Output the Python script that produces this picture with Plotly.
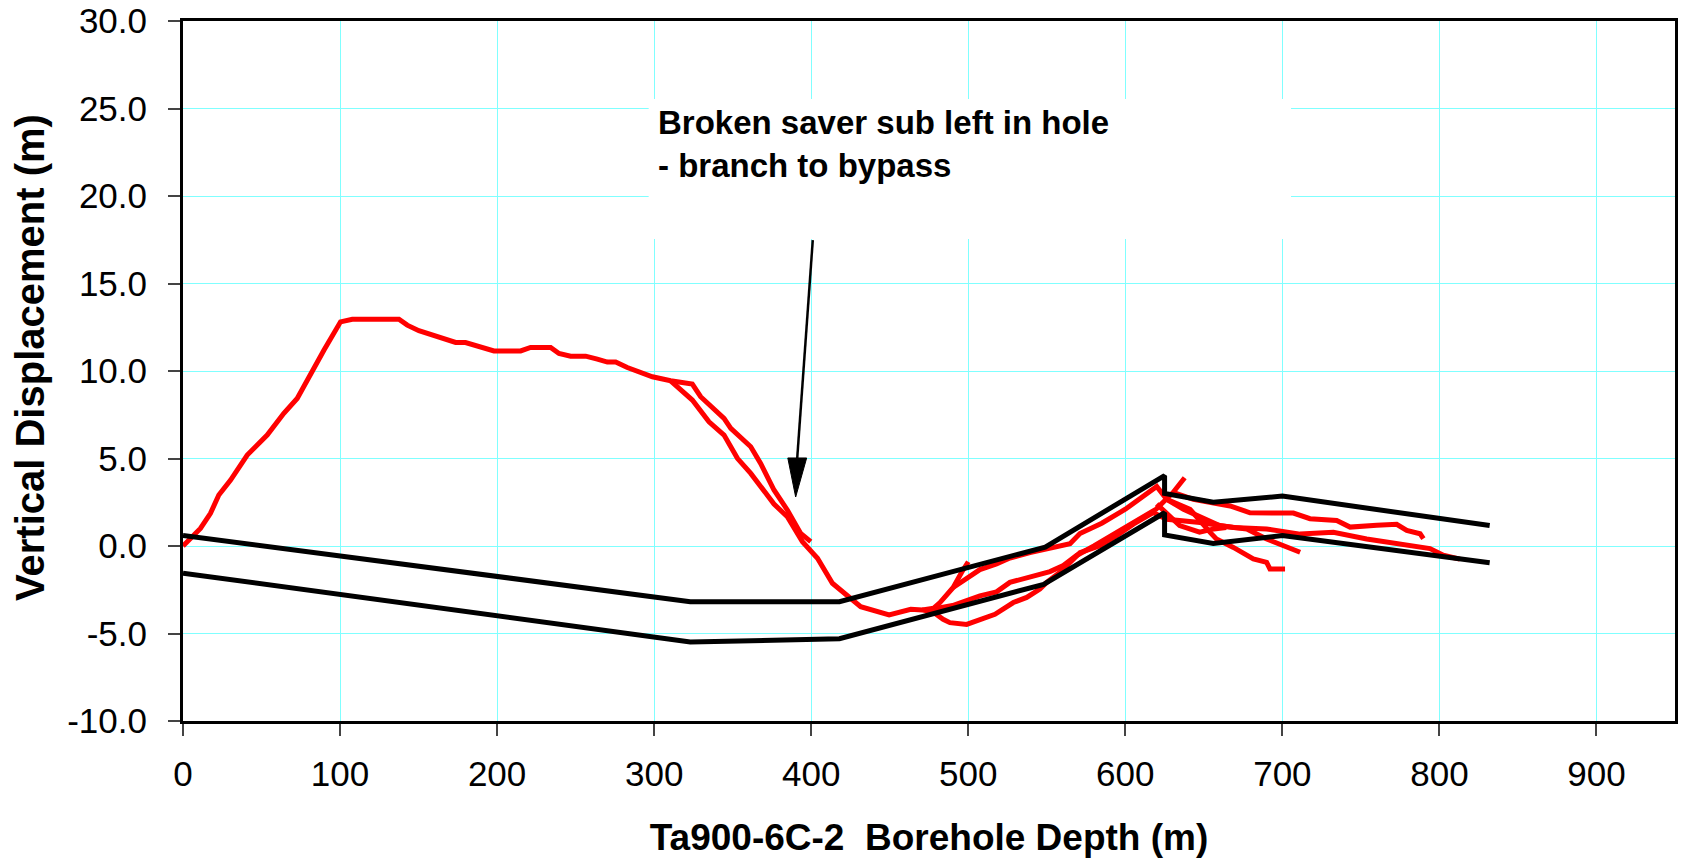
import plotly.graph_objects as go

# ---------------- data ----------------
# original hole (ends where the saver sub broke)
hole1_depth = [0, 11.1, 17.5, 22.8, 30.3, 35.5, 40.9, 53.6, 64.2, 72.7, 81.2, 89.7, 100.3,
               107.8, 137.5, 142.8, 150.2, 161.9, 173.6, 179.9, 186.3, 198, 215, 221.3,
               234.1, 239.4, 246.8, 256.4, 263.8, 270.2, 275.5, 282.9, 298.9, 310.5,
               324.3, 329.6, 344.5, 348.8, 361.5, 367.8, 376.3, 384.8, 393.3, 399.7]
hole1_disp = [0.0, 1.0, 1.87, 2.91, 3.77, 4.53, 5.2, 6.34, 7.58, 8.43, 9.86, 11.19, 12.81,
              12.96, 12.96, 12.62, 12.3, 11.95, 11.63, 11.63, 11.48, 11.15, 11.15, 11.35,
              11.35, 11.0, 10.85, 10.85, 10.68, 10.51, 10.51, 10.2, 9.67, 9.44,
              9.25, 8.53, 7.29, 6.72, 5.67, 4.72, 3.2, 2.06, 0.72, 0.25]

# bypass branch
bypass_depth = [310.5, 316.9, 324.3, 334.9, 344.5, 353, 361.5, 376.3, 384.8, 394.4, 404, 413.5,
                422, 431.5, 449.6, 463.4, 470.8, 478, 484, 488.3, 499, 507.4, 517, 528.7,
                537.2, 545.6, 549.9, 558.4, 566.9, 571.1, 583.9, 594.5, 605.1, 617.8, 626.3,
                647.6, 668.8, 690, 711.3, 732.5, 753.7, 775, 794, 802.5, 813]
bypass_disp = [9.44, 8.91, 8.34, 7.1, 6.34, 5.01, 4.15, 2.4, 1.67, 0.25, -0.7, -2.13,
               -2.8, -3.47, -3.94, -3.62, -3.65, -3.8, -4.19, -4.38, -4.48, -4.19, -3.9, -3.23,
               -2.94, -2.46, -2.08, -1.5, -0.73, -0.38, 0.02, 0.59, 1.25, 1.91, 1.53,
               1.34, 1.06, 0.97, 0.68, 0.78, 0.4, 0.11, -0.15, -0.53, -0.75]

# side branches in the target zone
branch_a_depth = [470.8, 478, 482, 490.4, 495.8, 500]
branch_a_disp = [-3.65, -3.55, -3.23, -2.37, -1.5, -0.9]

branch_b_depth = [490.4, 500, 507.4, 518, 526.5, 539.3, 554, 564.8, 571.1, 585, 600, 612, 620,
                  626.3, 641.2, 654, 658, 668.8, 681.5, 690, 692.1, 701.7]
branch_b_disp = [-2.37, -1.79, -1.35, -1.02, -0.69, -0.38, -0.12, 0.13, 0.71, 1.3, 2.1, 2.9, 3.4,
                 2.67, 2.1, 0.78, 0.4, -0.08, -0.74, -0.93, -1.31, -1.31]

branch_c_depth = [478, 490, 507.4, 518, 526.5, 539.3, 552, 560.5, 569, 580, 595, 610, 619.7,
                  630.4, 637.8]
branch_c_disp = [-3.6, -3.4, -2.85, -2.62, -2.08, -1.79, -1.46, -1.12, -0.54, 0.0, 0.8, 1.6, 2.11,
                 3.06, 3.9]

branch_d_depth = [626.3, 637, 660.3, 677.3, 690, 700.6, 711.3]
branch_d_disp = [2.67, 2.1, 1.16, 0.97, 0.4, 0.02, -0.36]

branch_e_depth = [630.4, 643.3, 666.7, 679.4, 707, 717.6, 734.6, 743.1, 760.1, 772.8, 779.2,
                  787.7, 789.8]
branch_e_disp = [3.06, 2.67, 2.29, 1.9, 1.88, 1.56, 1.46, 1.08, 1.18, 1.24, 0.89, 0.7, 0.42]

branch_f_depth = [620, 634.6, 647.3, 655, 664.3]
branch_f_disp = [2.4, 1.17, 0.79, 0.95, 1.05]

# target corridor boundaries
upper_depth = [0, 323, 418, 549, 625, 625, 656, 700, 832]
upper_disp = [0.6, -3.18, -3.18, -0.06, 4.02, 3.0, 2.5, 2.85, 1.17]
lower_depth = [0, 323, 418, 548, 625, 625, 656, 700, 832]
lower_disp = [-1.55, -5.49, -5.3, -2.19, 1.9, 0.63, 0.15, 0.6, -0.96]

x_ticks = [0, 100, 200, 300, 400, 500, 600, 700, 800, 900]
y_ticks = [-10, -5, 0, 5, 10, 15, 20, 25, 30]

note_text = "<b>Broken saver sub left in hole<br>- branch to bypass</b>"
note_pos = (301.0, 23.0)
note_box = (296.5, 25.55, 705.5, 17.55)   # x0, y0, x1, y1 (data units)
arrow_tail = (401.0, 17.48)
arrow_base = (391.1, 5.03)
arrow_tip = (390.1, 2.8)
arrow_half_width = 6.0

FONT = "Liberation Sans, Arial, sans-serif"
RED = "#FF0000"

fig = go.Figure()

red_series = [
    (hole1_depth, hole1_disp), (bypass_depth, bypass_disp),
    (branch_a_depth, branch_a_disp), (branch_b_depth, branch_b_disp),
    (branch_c_depth, branch_c_disp), (branch_d_depth, branch_d_disp),
    (branch_e_depth, branch_e_disp), (branch_f_depth, branch_f_disp),
]
for xs, ys in red_series:
    fig.add_trace(go.Scatter(x=xs, y=ys, mode="lines",
                             line=dict(color=RED, width=5), showlegend=False,
                             hoverinfo="skip"))

for xs, ys in [(upper_depth, upper_disp), (lower_depth, lower_disp)]:
    fig.add_trace(go.Scatter(x=xs, y=ys, mode="lines",
                             line=dict(color="black", width=5), showlegend=False,
                             hoverinfo="skip"))

# white label box (covers grid lines)
fig.add_shape(type="rect", xref="x", yref="y",
              x0=note_box[0], y0=note_box[1], x1=note_box[2], y1=note_box[3],
              fillcolor="white", line=dict(width=0), layer="between")

# arrow: shaft + filled head
fig.add_shape(type="line", xref="x", yref="y",
              x0=arrow_tail[0], y0=arrow_tail[1], x1=arrow_base[0], y1=arrow_base[1],
              line=dict(color="black", width=2.5), layer="above")
fig.add_shape(type="path", xref="x", yref="y",
              path=(f"M {arrow_base[0] - arrow_half_width},{arrow_base[1]} "
                    f"L {arrow_base[0] + arrow_half_width},{arrow_base[1]} "
                    f"L {arrow_tip[0]},{arrow_tip[1]} Z"),
              fillcolor="black", line=dict(color="black", width=1), layer="above")

fig.add_annotation(x=note_pos[0], y=note_pos[1], xref="x", yref="y",
                   text=note_text, showarrow=False, xanchor="left", yanchor="middle",
                   align="left", font=dict(family=FONT, size=33, color="black"))

# y-axis title
fig.add_annotation(x=-0.1025, y=0.5187, xref="paper", yref="paper",
                   text="<b>Vertical Displacement (m)</b>", textangle=-90,
                   showarrow=False, xanchor="center", yanchor="middle",
                   font=dict(family=FONT, size=40, color="black"))

fig.update_xaxes(range=[0, 950], tickvals=x_ticks, ticktext=[str(v) for v in x_ticks],
                 showgrid=True, gridcolor="rgb(128,255,255)", gridwidth=1,
                 showline=True, linecolor="black", linewidth=3, mirror=True,
                 ticks="outside", ticklen=12, tickwidth=1.5, tickcolor="#444",
                 tickfont=dict(family=FONT, size=35, color="black"),
                 ticklabelstandoff=8, zeroline=False,
                 title=dict(text="<b>Ta900-6C-2  Borehole Depth (m)</b>",
                            font=dict(family=FONT, size=37, color="black"), standoff=33))
fig.update_yaxes(range=[-10, 30], tickvals=y_ticks, ticktext=[f"{v:.1f}" for v in y_ticks],
                 showgrid=True, gridcolor="rgb(128,255,255)", gridwidth=1,
                 showline=True, linecolor="black", linewidth=3, mirror=True,
                 ticks="outside", ticklen=12, tickwidth=1.5, tickcolor="#444",
                 tickfont=dict(family=FONT, size=35, color="black"),
                 ticklabelstandoff=14, zeroline=False)

fig.update_layout(width=1685, height=863, paper_bgcolor="white", plot_bgcolor="white",
                  margin=dict(l=183, r=10, t=21, b=142, autoexpand=False),
                  showlegend=False)

fig.write_html("out.html")
